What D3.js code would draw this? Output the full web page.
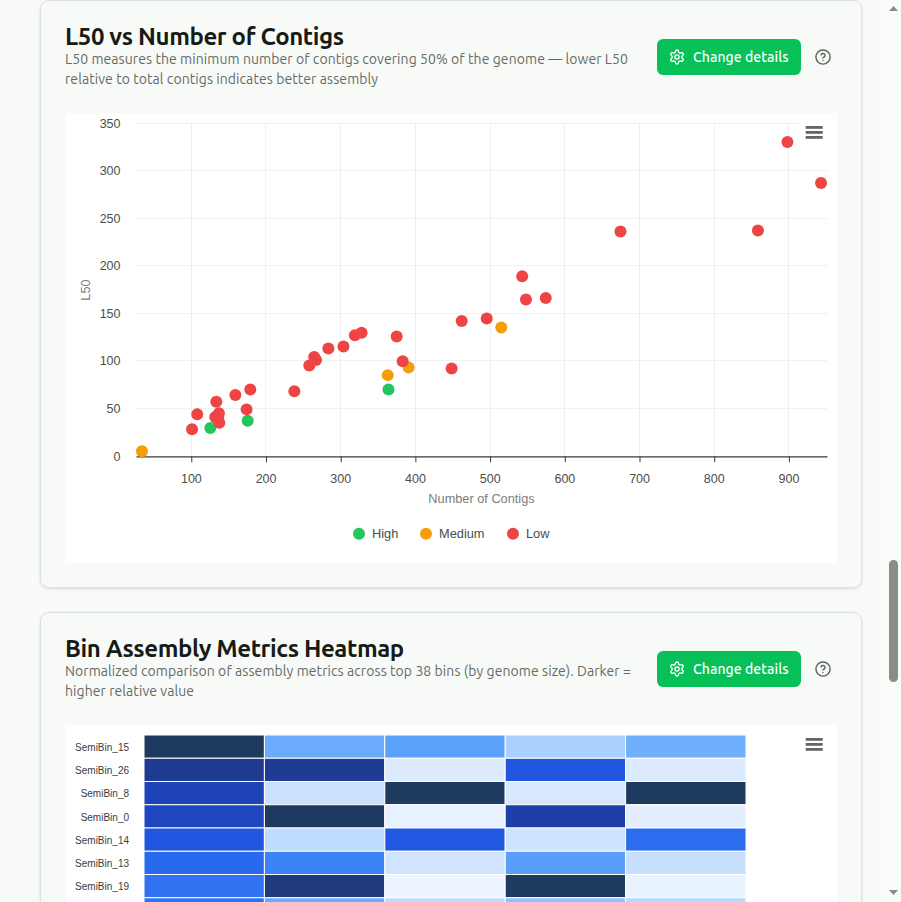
<!DOCTYPE html>
<html>
<head>
<meta charset="utf-8">
<script src="https://cdn.jsdelivr.net/npm/d3@7/dist/d3.min.js"></script>
<style>
html,body{margin:0;padding:0;overflow:hidden;background:#f9fbf9;width:901px;height:902px}
svg{display:block}
.ui{font-family:Ubuntu,"Noto Sans",sans-serif}
.ch{font-family:"Liberation Sans",Arial,sans-serif}
</style>
</head>
<body>
<svg id="page" width="901" height="902" viewBox="0 0 901 902"></svg>
<script>
// ---- data ----
const scatterTitle = "L50 vs Number of Contigs";
const scatterSub = ["L50 measures the minimum number of contigs covering 50% of the genome — lower L50","relative to total contigs indicates better assembly"];
const heatTitle = "Bin Assembly Metrics Heatmap";
const heatSub = ["Normalized comparison of assembly metrics across top 38 bins (by genome size). Darker =","higher relative value"];
const buttonLabel = "Change details";
const xTicks = [100,200,300,400,500,600,700,800,900];
const yTicks = [0,50,100,150,200,250,300,350];
const xTitle = "Number of Contigs";
const yTitle = "L50";
const legendNames = ["High","Medium","Low"];
const legendColors = ["#22c55e","#f59e0b","#ef4444"];
const highPts = [[125.5,29.5],[175.5,37],[364,70]];
const mediumPts = [[34,5],[363,85],[391,93],[515,135]];
const lowPts = [[101,28],[108,44],[133.5,57],[132,41],[137,45],[136,41],[137.5,35],[159,64],[179,70],[174,49],[238,68],[258,95],[264.5,104],[267,101],[283.5,113],[303.7,115],[319,127],[328,129.5],[375,125.5],[383,99.5],[448.5,92],[462,142],[495.5,144.5],[543,189],[548,164.5],[574.5,166],[674.5,236],[858.5,237],[898,330],[943,287]];
const heatBins = ["SemiBin_15","SemiBin_26","SemiBin_8","SemiBin_0","SemiBin_14","SemiBin_13","SemiBin_19"];
const heatRowKeys = [...heatBins,"(next row, name below the fold)"];
const heatCols = ["m1","m2","m3","m4","m5"];
const heatValues = [
 [1.00,0.38,0.41,0.25,0.37],
 [0.88,0.87,0.09,0.66,0.10],
 [0.78,0.16,1.00,0.11,1.00],
 [0.76,1.00,0.04,0.82,0.06],
 [0.66,0.20,0.65,0.15,0.57],
 [0.58,0.50,0.14,0.42,0.17],
 [0.55,0.93,0.02,1.00,0.03],
 [0.55,0.38,0.20,0.31,0.22]
];
const heatStops = ["#eff6ff","#dbeafe","#bfdbfe","#93c5fd","#60a5fa","#3b82f6","#2563eb","#1d4ed8","#1e40af","#1e3a8a","#1e3a5f"];

// ---- frame ----
const svg = d3.select("#page");
const defs = svg.append("defs");
const f = defs.append("filter").attr("id","sh").attr("x","-5%").attr("y","-5%").attr("width","110%").attr("height","110%");
f.append("feDropShadow").attr("dx",0).attr("dy",1).attr("stdDeviation",1.5).attr("flood-color","#000").attr("flood-opacity",0.12);

const gearPath = "M12.22 2h-.44a2 2 0 0 0-2 2v.18a2 2 0 0 1-1 1.73l-.43.25a2 2 0 0 1-2 0l-.15-.08a2 2 0 0 0-2.73.73l-.22.38a2 2 0 0 0 .73 2.73l.15.1a2 2 0 0 1 1 1.72v.51a2 2 0 0 1-1 1.74l-.15.09a2 2 0 0 0-.73 2.73l.22.38a2 2 0 0 0 2.73.73l.15-.08a2 2 0 0 1 2 0l.43.25a2 2 0 0 1 1 1.73V20a2 2 0 0 0 2 2h.44a2 2 0 0 0 2-2v-.18a2 2 0 0 1 1-1.73l.43-.25a2 2 0 0 1 2 0l.15.08a2 2 0 0 0 2.73-.73l.22-.39a2 2 0 0 0-.73-2.73l-.15-.08a2 2 0 0 1-1-1.74v-.5a2 2 0 0 1 1-1.74l.15-.09a2 2 0 0 0 .73-2.73l-.22-.38a2 2 0 0 0-2.73-.73l-.15.08a2 2 0 0 1-2 0l-.43-.25a2 2 0 0 1-1-1.73V4a2 2 0 0 0-2-2z";

function card(top, height, title, sub, panelH){
  const g = svg.append("g");
  g.append("rect").attr("x",40.5).attr("y",top).attr("width",821).attr("height",height).attr("rx",8)
    .attr("fill","#f8faf8").attr("stroke","#dde1dd").attr("filter","url(#sh)");
  g.append("text").attr("class","ui").attr("x",65).attr("y",top+44.5).attr("font-size",24).attr("font-weight",700)
    .attr("letter-spacing",-0.4).attr("fill","#171b16").text(title);
  sub.forEach((s,i)=>g.append("text").attr("class","ui").attr("x",65).attr("y",top+63.5+i*20).attr("font-size",14)
    .attr("letter-spacing",0.07).attr("fill","#666b66").text(s));
  g.append("rect").attr("x",657).attr("y",top+38.5).attr("width",144).attr("height",36).attr("rx",6).attr("fill","#07c158");
  const gear = g.append("g").attr("transform",`translate(668.6,${top+48.1}) scale(0.7)`).attr("fill","none").attr("stroke","#fff").attr("stroke-width",1.9);
  gear.append("path").attr("d",gearPath);
  gear.append("circle").attr("cx",12).attr("cy",12).attr("r",3);
  g.append("text").attr("class","ui").attr("x",693).attr("y",top+61.5).attr("font-size",14).attr("font-weight",500)
    .attr("letter-spacing",0.07).attr("fill","#fff").text(buttonLabel);
  const help = g.append("g").attr("transform",`translate(814.5,${top+48}) scale(0.71)`).attr("fill","none").attr("stroke","#5f645f").attr("stroke-width",2).attr("stroke-linecap","round");
  help.append("circle").attr("cx",12).attr("cy",12).attr("r",10);
  help.append("path").attr("d","M9.09 9a3 3 0 0 1 5.83 1c0 2-3 3-3 3");
  help.append("path").attr("d","M12 17h.01");
  g.append("rect").attr("x",65).attr("y",top+112.5).attr("width",772).attr("height",panelH).attr("fill","#fff");
  return g;
}
function burger(g, y){
  g.append("rect").attr("x",799).attr("y",y-13).attr("width",38).attr("height",28).attr("fill","#fff");
  [0,5,10].forEach(d=>g.append("rect").attr("x",805.7).attr("y",y+d).attr("width",17).attr("height",2.8).attr("fill","#626862"));
}
const crisp = v => Math.round(v-0.5)+0.5;

// ---- scatter ----
const c1 = card(0.5,587,scatterTitle,scatterSub,450);
const x = d3.scaleLinear().domain([26,951]).range([136,827]);
const y = d3.scaleLinear().domain([0,350]).range([456,123]);
const gridG = c1.append("g");
gridG.selectAll("line.h").data(yTicks.slice(1)).join("line").attr("class","h")
  .attr("x1",136).attr("x2",827).attr("y1",d=>crisp(y(d))).attr("y2",d=>crisp(y(d))).attr("stroke","#f0f0f0");
gridG.selectAll("line.v").data(xTicks).join("line").attr("class","v")
  .attr("x1",d=>crisp(x(d))).attr("x2",d=>crisp(x(d))).attr("y1",123.5).attr("y2",456).attr("stroke","#f0f0f0");
burger(c1,126);
const ax = c1.append("g").attr("class","ch").attr("transform","translate(0,456.3)")
  .call(d3.axisBottom(x).tickValues(xTicks).tickSizeInner(6).tickSizeOuter(0).tickFormat(d3.format("d")));
ax.selectAll("path").attr("stroke","#373d3f").attr("stroke-width",1.3);
ax.selectAll("line").attr("stroke","#373d3f");
ax.selectAll("text").attr("font-size",12.5).attr("fill","#4a4f4a").attr("font-family","Liberation Sans").attr("dy",0).attr("dx",-0.4).attr("y",26.5);
const ay = c1.append("g").attr("class","ch").attr("transform","translate(120.5,0)")
  .call(d3.axisLeft(y).tickValues(yTicks).tickSize(0).tickPadding(0).tickFormat(d3.format("d")));
ay.select("path").remove();
ay.selectAll("text").attr("font-size",12.5).attr("fill","#4a4f4a").attr("font-family","Liberation Sans");
c1.append("text").attr("class","ch").attr("x",481.5).attr("y",503).attr("text-anchor","middle").attr("font-size",12.75).attr("fill","#7a7e7a").text(xTitle);
c1.append("text").attr("class","ch").attr("transform","translate(90,290) rotate(-90)").attr("text-anchor","middle").attr("font-size",12.75).attr("fill","#7a7e7a").text(yTitle);
[[highPts,0],[mediumPts,1],[lowPts,2]].forEach(([pts,i])=>{
  c1.append("g").selectAll("circle").data(pts).join("circle")
    .attr("cx",d=>x(d[0])).attr("cy",d=>y(d[1])).attr("r",6).attr("fill",legendColors[i]);
});
const legX = d3.scaleOrdinal().domain(legendNames).range([359,426,513]);
const leg = c1.append("g").attr("class","ch").selectAll("g").data(legendNames).join("g")
  .attr("transform",d=>`translate(${legX(d)},533.7)`);
leg.append("circle").attr("r",6).attr("fill",(d,i)=>legendColors[i]);
leg.append("text").attr("x",13).attr("y",4.5).attr("font-size",12.8).attr("fill","#4a4f4a").text(d=>d);

// ---- heatmap ----
const c2 = card(612.5,400,heatTitle,heatSub,300);
const hx = d3.scaleBand().domain(heatCols).range([144,746]);
const hy = d3.scaleBand().domain(heatRowKeys).range([735,735+23.25*heatRowKeys.length]);
const hc = d3.scaleLinear().domain(heatStops.map((_,i)=>i/(heatStops.length-1))).range(heatStops);
const cells = heatValues.flatMap((row,r)=>row.map((v,k)=>({b:heatRowKeys[r],m:heatCols[k],v})));
c2.append("g").selectAll("rect").data(cells).join("rect")
  .attr("x",d=>hx(d.m)).attr("y",d=>hy(d.b)).attr("width",hx.bandwidth()).attr("height",hy.bandwidth())
  .attr("fill",d=>hc(d.v)).attr("stroke","#fff").attr("stroke-width",1);
const hay = c2.append("g").attr("class","ch").attr("transform","translate(129,1)")
  .call(d3.axisLeft(hy).tickValues(heatBins).tickSize(0).tickPadding(0));
hay.select("path").remove();
hay.selectAll("text").attr("font-size",10).attr("fill","#373d3f").attr("font-family","Liberation Sans");
burger(c2,738);

// ---- scrollbar ----
svg.append("rect").attr("x",886).attr("y",0).attr("width",15).attr("height",902).attr("fill","#fafcfa");
svg.append("rect").attr("x",889).attr("y",560).attr("width",9).attr("height",122).attr("rx",4.5).attr("fill","#8a8c88");
svg.append("path").attr("d",d3.line()([[889,11],[898,11],[893.5,6]])+"Z").attr("fill","#8a8c88");
svg.append("path").attr("d",d3.line()([[889,890],[898,890],[893.5,895]])+"Z").attr("fill","#8a8c88");
</script>
</body>
</html>
